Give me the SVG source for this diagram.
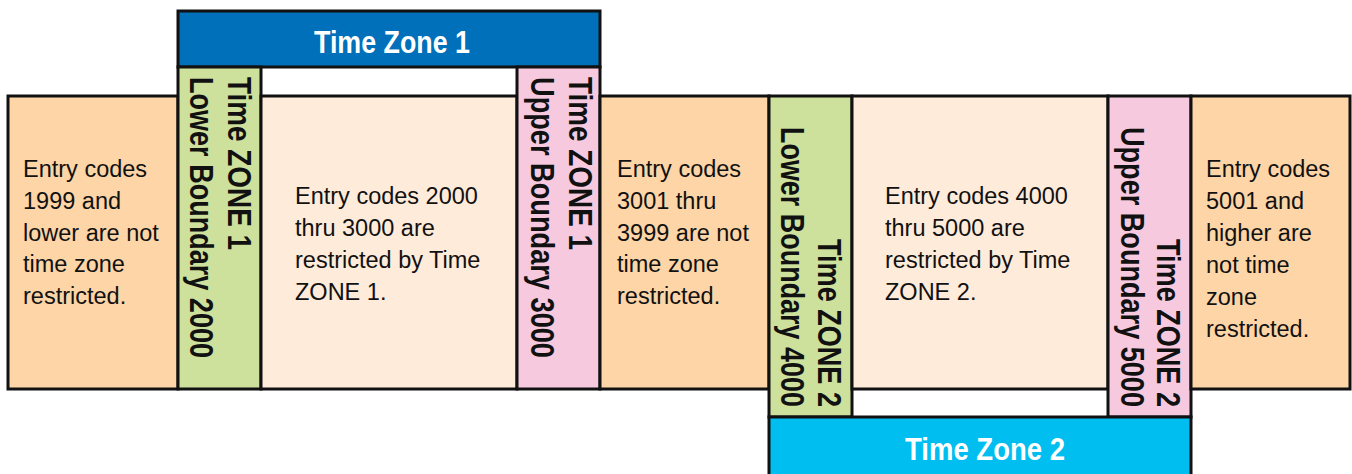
<svg xmlns="http://www.w3.org/2000/svg" width="1352" height="474" viewBox="0 0 1352 474">
<style>
.b{stroke:#111;stroke-width:3}
.or{fill:#FDD5A6}
.lt{fill:#FEEBDA}
.gr{fill:#CDE09C}
.pk{fill:#F6C9DF}
.t{font-family:"Liberation Sans",Arial,sans-serif;font-size:23.5px;fill:#111}
.r{font-family:"Liberation Sans",Arial,sans-serif;font-size:34px;font-weight:bold;fill:#111}
.h{font-family:"Liberation Sans",Arial,sans-serif;font-size:32px;font-weight:bold;fill:#fff;text-anchor:middle}
</style>
<rect width="1352" height="474" fill="#fff"/>
<g id="tz1-header">
<rect class="b" x="178" y="11" width="422" height="56" fill="#0070BA"/>
<text class="h" x="392" y="53" textLength="156" lengthAdjust="spacingAndGlyphs">Time Zone 1</text>
</g>
<g id="below-1">
<rect class="b or" x="8" y="96" width="170" height="293"/>
<text class="t" x="23"><tspan x="23" y="177">Entry codes</tspan><tspan x="23" y="209">1999 and</tspan><tspan x="23" y="240.5">lower are not</tspan><tspan x="23" y="272">time zone</tspan><tspan x="23" y="304">restricted.</tspan></text>
</g>
<g id="tz1-lower">
<rect class="b gr" x="178" y="67" width="83" height="322"/>
<text class="r" transform="translate(228,77) rotate(90)" textLength="173" lengthAdjust="spacingAndGlyphs">Time ZONE 1</text>
<text class="r" transform="translate(190,77) rotate(90)" textLength="281" lengthAdjust="spacingAndGlyphs">Lower Boundary 2000</text>
</g>
<g id="tz1-range">
<rect class="b lt" x="261" y="96" width="256" height="293"/>
<text class="t"><tspan x="295" y="204">Entry codes 2000</tspan><tspan x="295" y="236">thru 3000 are</tspan><tspan x="295" y="268">restricted by Time</tspan><tspan x="295" y="300">ZONE 1.</tspan></text>
</g>
<g id="tz1-upper">
<rect class="b pk" x="517" y="67" width="83" height="322"/>
<text class="r" transform="translate(569,77) rotate(90)" textLength="173" lengthAdjust="spacingAndGlyphs">Time ZONE 1</text>
<text class="r" transform="translate(531,77) rotate(90)" textLength="281" lengthAdjust="spacingAndGlyphs">Upper Boundary 3000</text>
</g>
<g id="between">
<rect class="b or" x="600" y="96" width="169" height="293"/>
<text class="t"><tspan x="617" y="177">Entry codes</tspan><tspan x="617" y="209">3001 thru</tspan><tspan x="617" y="240.5">3999 are not</tspan><tspan x="617" y="272">time zone</tspan><tspan x="617" y="304">restricted.</tspan></text>
</g>
<g id="tz2-lower">
<rect class="b gr" x="769" y="96" width="83" height="321"/>
<text class="r" transform="translate(818,239) rotate(90)" textLength="168" lengthAdjust="spacingAndGlyphs">Time ZONE 2</text>
<text class="r" transform="translate(781,127) rotate(90)" textLength="280" lengthAdjust="spacingAndGlyphs">Lower Boundary 4000</text>
</g>
<g id="tz2-range">
<rect class="b lt" x="852" y="96" width="256" height="293"/>
<text class="t"><tspan x="885" y="204">Entry codes 4000</tspan><tspan x="885" y="236">thru 5000 are</tspan><tspan x="885" y="268">restricted by Time</tspan><tspan x="885" y="300">ZONE 2.</tspan></text>
</g>
<g id="tz2-upper">
<rect class="b pk" x="1108" y="96" width="83" height="321"/>
<text class="r" transform="translate(1157,239) rotate(90)" textLength="168" lengthAdjust="spacingAndGlyphs">Time ZONE 2</text>
<text class="r" transform="translate(1121,127) rotate(90)" textLength="280" lengthAdjust="spacingAndGlyphs">Upper Boundary 5000</text>
</g>
<g id="above-5000">
<rect class="b or" x="1191" y="96" width="159" height="293"/>
<text class="t"><tspan x="1206" y="177">Entry codes</tspan><tspan x="1206" y="209">5001 and</tspan><tspan x="1206" y="241">higher are</tspan><tspan x="1206" y="273">not time</tspan><tspan x="1206" y="305">zone</tspan><tspan x="1206" y="337">restricted.</tspan></text>
</g>
<g id="tz2-header">
<rect class="b" x="769" y="417" width="422" height="62" fill="#00BEF0"/>
<text class="h" x="985" y="460" textLength="160" lengthAdjust="spacingAndGlyphs">Time Zone 2</text>
</g>
</svg>
